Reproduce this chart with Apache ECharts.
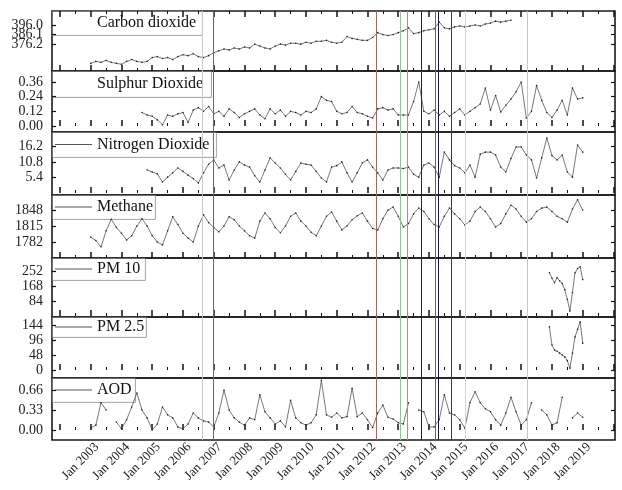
<!DOCTYPE html>
<html>
<head>
<meta charset="utf-8">
<script src="https://cdn.jsdelivr.net/npm/echarts@6/dist/echarts.min.js"></script>
<style>
  html, body { margin: 0; padding: 0; background: #fff; }
  #main { width: 622px; height: 490px; }
</style>
</head>
<body>
<div id="main"></div>
<script>
  // x axis is in decimal years
  var labelYears = [2003, 2004, 2005, 2006, 2007, 2008, 2009, 2010, 2011, 2012, 2013, 2014, 2015, 2016, 2017, 2018, 2019];

  // event lines (decimal year)
  var eventYears = [2006.64, 2007.0, 2012.27, 2013.05, 2013.3, 2013.75, 2014.19, 2014.29, 2014.73, 2015.19, 2017.19];

  // series: bi-monthly values unless noted, start given as [year, month]
  var co2Start = [2003, 1];
  var co2 = [
    356, 358, 357, 359, 357, 356,
    355, 358, 360, 358, 357, 358,
    362, 363, 361, 362, 360, 363,
    365, 364, 366, 363, 362, 364,
    367, 369, 371, 370, 372, 371,
    373, 372, 376, 374, 372, 371,
    374, 376, 375, 377, 377, 376,
    378, 377, 379, 379, 380, 378,
    377, 378, 384, 382, 381, 380,
    380, 383, 388, 386, 385, 386,
    388, 390, 393, 387, 388, 390,
    391, 392, 399, 393, 392, 394,
    395, 394, 395, 396, 395, 397,
    398, 400, 399, 400, 401
  ];

  var so2Start = [2004, 9];
  var so2 = [
    0.11, 0.09,
    0.08, 0.05, 0.01, 0.09, 0.08, 0.10,
    0.11, 0.03, 0.13, 0.15, 0.12, 0.16,
    0.10, 0.12, 0.08, 0.14, 0.11, 0.07,
    0.10, 0.12, 0.14, 0.09, 0.06, 0.14,
    0.10, 0.13, 0.08, 0.12, 0.11, 0.09,
    0.12, 0.11, 0.14, 0.24, 0.21, 0.20,
    0.12, 0.10, 0.11, 0.16, 0.11, 0.10,
    0.08, 0.065, 0.14, 0.15, 0.13, 0.14,
    0.09, 0.09, 0.09, 0.20, 0.36, 0.12,
    0.10, 0.13, 0.09, 0.12, 0.08, 0.11,
    0.14, 0.09, 0.12, 0.15, 0.18, 0.31,
    0.13, 0.25, 0.115, 0.17, 0.22, 0.28,
    0.36, 0.065, 0.12, 0.33, 0.21, 0.11,
    0.07, 0.13, 0.21, 0.09, 0.31, 0.22,
    0.23
  ];

  var no2Start = [2004, 11];
  var no2 = [
    8.0,
    7.3, 6.6, 3.8, 5.5, 7.0, 8.7,
    7.5, 6.2, 5.0, 3.5, 7.0, 10.0,
    11.5, 8.7, 9.7, 4.5, 8.0, 10.8,
    9.7, 9.0, 6.0, 3.8, 8.0, 12.2,
    10.4, 8.7, 6.5, 4.5, 7.5, 10.4,
    10.0, 9.7, 7.5, 5.2, 3.8, 9.0,
    9.5, 10.8, 7.0, 3.8, 7.0, 10.5,
    11.5, 9.0, 7.0, 4.5, 8.0, 8.7,
    8.7, 8.5, 9.0, 6.5, 5.5, 9.7,
    10.4, 9.0, 5.5, 14.2, 11.5, 9.5,
    8.7, 7.0, 9.7, 5.5, 13.5, 14.2,
    14.2, 13.2, 9.0, 7.3, 12.0, 16.0,
    16.0, 13.2, 11.5, 5.2, 12.2, 19.1,
    13.0, 11.5, 13.2, 7.3, 5.5, 16.7,
    14.2
  ];

  var ch4Start = [2003, 1];
  var ch4 = [
    1792, 1785, 1772, 1805, 1829, 1812,
    1800, 1786, 1795, 1815, 1830, 1815,
    1795, 1782, 1776, 1805, 1834, 1818,
    1800, 1790, 1782, 1815, 1838, 1822,
    1812, 1803, 1815, 1834, 1828, 1815,
    1805, 1795, 1790, 1825, 1842, 1830,
    1812, 1801, 1815, 1835, 1842, 1825,
    1815, 1802, 1795, 1815, 1835, 1844,
    1825, 1807, 1815, 1828, 1836, 1842,
    1825, 1810, 1807, 1830, 1848, 1854,
    1835, 1813, 1820, 1840, 1852, 1845,
    1830, 1818, 1813, 1835, 1852, 1840,
    1830, 1817, 1825, 1845, 1854, 1845,
    1830, 1813, 1820, 1840, 1858, 1850,
    1835, 1823, 1830, 1845, 1852, 1854,
    1845, 1835, 1830, 1823, 1850, 1869,
    1848
  ];

  // PM series are monthly
  var pmStart = [2017, 12];
  var pm10 = [246, 215, 190, 218, 200, 185, 150, 95, 28, 134, 246, 270, 280, 207];
  var pm25 = [138, 80, 64, 60, 54, 48, 42, 30, 6, 54, 106, 130, 154, 86];

  var aodStart = [2003, 1];
  var aod = [
    0.03, 0.08, 0.45, 0.33, null, 0.13,
    0.02, 0.17, 0.38, 0.61, 0.33, 0.20,
    0.00, 0.10, 0.38, 0.25, 0.20, 0.05,
    0.02, 0.10, 0.28, 0.20, 0.15, 0.13,
    0.05, 0.28, 0.66, 0.33, 0.20, 0.13,
    0.08, 0.20, 0.17, 0.58, 0.30, 0.20,
    0.10, 0.15, 0.05, 0.49, 0.20, 0.12,
    0.08, 0.12, 0.25, 0.82, 0.25, 0.21,
    0.28, 0.20, 0.22, 0.69, 0.22, 0.28,
    0.17, 0.04, 0.28, 0.41, 0.21, 0.18,
    0.12, 0.10, 0.45, null, 0.33, 0.30,
    0.05, 0.05, 0.17, 0.58, 0.28, 0.25,
    0.17, 0.03, 0.45, 0.63, 0.45, 0.35,
    0.30, 0.17, 0.08, 0.28, 0.54, 0.30,
    0.08, 0.17, 0.45, null, 0.33, 0.25,
    0.08, 0.12, 0.54, null, 0.20, 0.28,
    0.21
  ];

  var names = ['Carbon dioxide', 'Sulphur Dioxide', 'Nitrogen Dioxide', 'Methane', 'PM 10', 'PM 2.5', 'AOD'];
  var yTicks = [
    [376.2, 386.1, 396.0],
    [0, 0.12, 0.24, 0.36],
    [5.4, 10.8, 16.2],
    [1782, 1815, 1848],
    [84, 168, 252],
    [0, 48, 96, 144],
    [0, 0.33, 0.66]
  ];

  // ---- layout / style (not data) ----
  var serif = 'Liberation Serif';
  var xMin = 2001.74, xMax = 2020.05;
  var labelShift = 0.2; // rotated labels sit a little right of their tick in the original
  var tops = [11, 71, 132, 195, 258, 317, 378, 440];
  var yRanges = [[348, 410.6], [-0.049, 0.45], [-0.7, 21.2], [1749, 1879], [-5.6, 330], [-25.6, 169.6], [-0.165, 0.858]];
  var yDecimals = [1, 2, 1, 0, 0, 0, 2];
  var steps = [1 / 6, 1 / 6, 1 / 6, 1 / 6, 1 / 12, 1 / 12, 1 / 6];
  var eventColors = ['#cacaca', '#8a5a5a', '#9a6a6a', '#94c294', '#9090b8', '#26263a', '#56609a', '#1c1c2c', '#3a3a4c', '#d4d4d4', '#acd6ac'];
  var boxW = [150, 159, 164, 103, 93, 94, 83];
  var boxH = [24, 26, 25, 24, 22, 20, 24];
  var showSample = [false, false, true, true, true, true, true];

  var starts = [co2Start, so2Start, no2Start, ch4Start, pmStart, pmStart, aodStart];
  var values = [co2, so2, no2, ch4, pm10, pm25, aod];

  var yearTicks = [], halfTicks = [];
  for (var y = 2002; y <= 2020; y++) {
    yearTicks.push(y);
    if (y < 2020) halfTicks.push(y + 0.5);
  }

  function toPairs(start, step, vals) {
    var t0 = start[0] + (start[1] - 1) / 12;
    return vals.map(function (v, k) {
      return [t0 + k * step, v === null ? '-' : v];
    });
  }

  var grids = [], xAxes = [], yAxes = [], series = [], graphics = [];

  names.forEach(function (name, i) {
    var last = i === names.length - 1;
    grids.push({
      left: 52, right: 7, top: tops[i], height: tops[i + 1] - tops[i],
      show: true, borderColor: '#1a1a1a', borderWidth: 1.6, backgroundColor: 'transparent'
    });

    function xAxis(pos, ticks, len, withLabel) {
      return {
        type: 'value', gridIndex: i, position: pos, min: xMin, max: xMax,
        axisLine: { show: false },
        splitLine: { show: false },
        axisTick: { show: true, inside: true, length: len, customValues: ticks, lineStyle: { color: '#111', width: len > 4 ? 1.5 : 1 } },
        axisLabel: withLabel ? {
          show: true, hideOverlap: false, showMinLabel: true, showMaxLabel: true,
          customValues: labelYears.map(function (v) { return v + labelShift; }),
          rotate: 45, margin: 5,
          fontFamily: serif, fontSize: 13, color: '#222',
          formatter: function (v) { return 'Jan ' + Math.floor(v); }
        } : { show: false }
      };
    }

    var mainIdx = xAxes.length;
    xAxes.push(xAxis('bottom', yearTicks, 6, last));
    xAxes.push(xAxis('bottom', halfTicks, 3, false));
    if (i === 0) {
      xAxes.push(xAxis('top', yearTicks, 6, false));
      xAxes.push(xAxis('top', halfTicks, 3, false));
    }

    var dec = yDecimals[i];
    var ticks = yTicks[i];
    function yAxis(pos, tickVals, labelVals) {
      return {
        type: 'value', gridIndex: i, position: pos, min: yRanges[i][0], max: yRanges[i][1],
        axisLine: { show: false }, splitLine: { show: false },
        axisTick: tickVals ? { show: true, inside: true, length: 4, customValues: tickVals, lineStyle: { color: '#111', width: 1.2 } } : { show: false },
        axisLabel: labelVals ? {
          show: true, hideOverlap: false, showMinLabel: true, showMaxLabel: true,
          customValues: labelVals, margin: 9,
          fontFamily: serif, fontSize: 14, color: '#222',
          formatter: function (v) { return v.toFixed(dec); }
        } : { show: false }
      };
    }
    var yIdx = yAxes.length;
    yAxes.push(yAxis('left', ticks, null));
    yAxes.push(yAxis('right', ticks, null));
    // one label per axis so tightly packed labels are all kept
    ticks.forEach(function (t) { yAxes.push(yAxis('left', null, [t])); });

    series.push({
      name: name, type: 'line', xAxisIndex: mainIdx, yAxisIndex: yIdx,
      data: toPairs(starts[i], steps[i], values[i]),
      connectNulls: false,
      showSymbol: true, symbol: 'circle', symbolSize: 1.6,
      itemStyle: { color: '#222' },
      lineStyle: { color: '#555', width: 0.8 },
      markLine: {
        silent: true, symbol: ['none', 'none'], label: { show: false },
        data: eventYears.map(function (v, k) {
          return { xAxis: v, lineStyle: { color: eventColors[k], width: 1, type: 'solid' } };
        })
      }
    });

    // legend box for the panel
    var top = tops[i];
    var midY = top + boxH[i] / 2;
    graphics.push({
      type: 'rect', left: 52, top: top,
      shape: { width: boxW[i], height: boxH[i] },
      style: { fill: 'rgba(255,255,255,0)', stroke: '#8a8a8a', lineWidth: 0.8 }
    });
    if (showSample[i]) {
      graphics.push({
        type: 'line', shape: { x1: 55, y1: midY, x2: 92, y2: midY },
        style: { stroke: '#555', lineWidth: 1 }
      });
    }
    graphics.push({
      type: 'text', x: 97, y: midY,
      style: { text: name, fontFamily: serif, fontSize: 16, fill: '#111', verticalAlign: 'middle' }
    });
  });

  var myChart = echarts.init(document.getElementById('main'), null, { renderer: 'canvas' });
  myChart.setOption({
    animation: false,
    backgroundColor: '#fff',
    grid: grids,
    xAxis: xAxes,
    yAxis: yAxes,
    series: series,
    graphic: graphics
  });
</script>
</body>
</html>
